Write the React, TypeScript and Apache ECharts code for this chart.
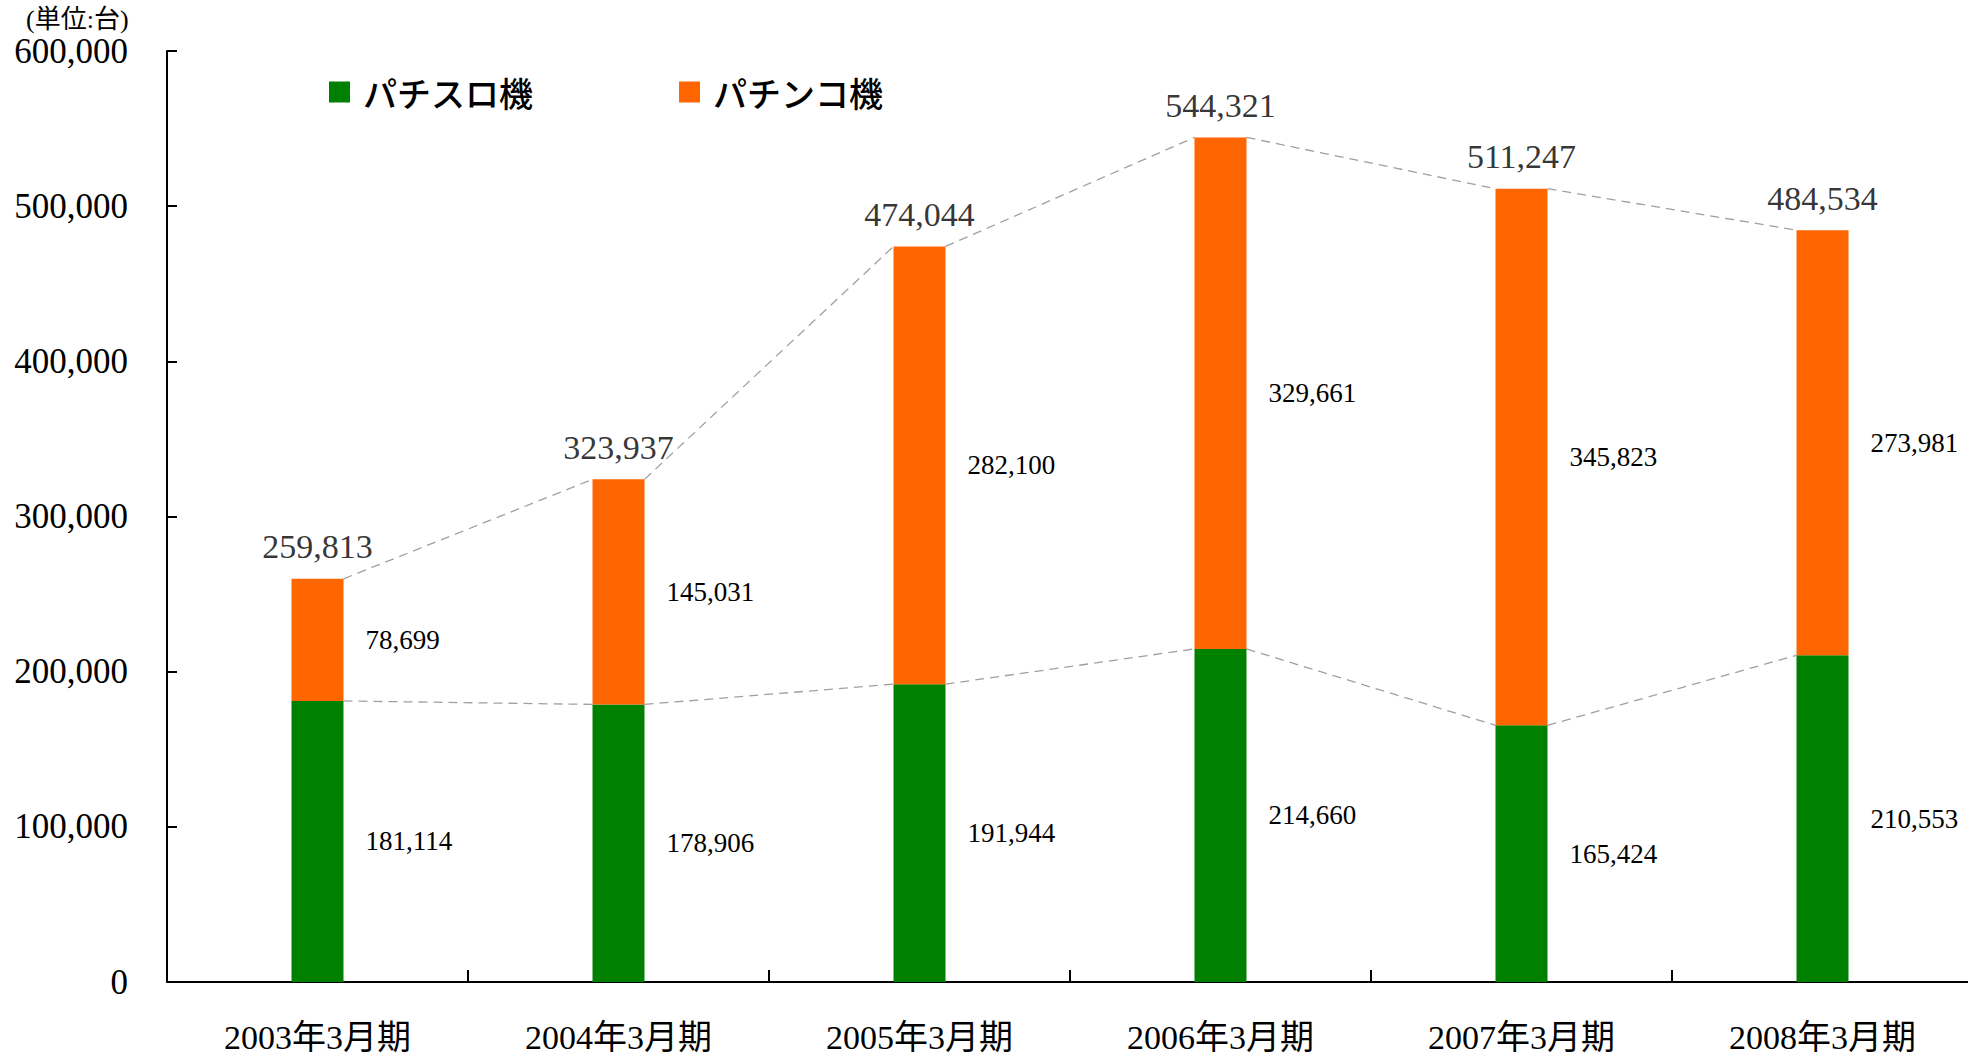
import React, { useEffect, useRef } from "react";
import * as echarts from "echarts";

const categories = ["2003年3月期", "2004年3月期", "2005年3月期", "2006年3月期", "2007年3月期", "2008年3月期"];
const pachislot = [181114, 178906, 191944, 214660, 165424, 210553];
const pachinko = [78699, 145031, 282100, 329661, 345823, 273981];
const totals = [259813, 323937, 474044, 544321, 511247, 484534];
const seriesNames = ["パチスロ機", "パチンコ機"];
const unitLabel = "(単位:台)";

const fmt = (v: number) => v.toLocaleString("en-US");
const SERIF = '"Liberation Serif", "Times New Roman", "Noto Sans CJK JP", serif';
const SANS = '"Noto Sans CJK JP", "Noto Sans", sans-serif';
const BAR_W = 52;

function connectorData(vals: number[]) {
  const out: number[][] = [];
  for (let i = 0; i < vals.length - 1; i++) out.push([i, vals[i], vals[i + 1]]);
  return out;
}

export default function App() {
  const ref = useRef<HTMLDivElement>(null);
  useEffect(() => {
    if (!ref.current) return;
    const chart = echarts.init(ref.current, null, { renderer: "svg" });
    const renderConnector = (params: any, api: any) => {
      const i = api.value(0);
      const p1 = api.coord([i, api.value(1)]);
      const p2 = api.coord([i + 1, api.value(2)]);
      return {
        type: "line",
        shape: { x1: p1[0] + BAR_W / 2, y1: p1[1], x2: p2[0] - BAR_W / 2, y2: p2[1] },
        style: { stroke: "#a0a0a0", lineWidth: 1.3, lineDash: [9, 6], fill: null },
      };
    };
    chart.setOption({
      animation: false,
      backgroundColor: "#fff",
      grid: { left: 167, top: 51, bottom: 72, width: 1806, outerBoundsMode: "none", containLabel: false },
      legend: {
        data: seriesNames,
        left: 324,
        top: 70,
        icon: "rect",
        itemWidth: 21,
        itemHeight: 21,
        itemGap: 146,
        textStyle: { fontFamily: SANS, fontSize: 34, fontWeight: 500, color: "#000", padding: [0, 0, 0, 8] },
      },
      graphic: [
        {
          type: "text",
          left: 26,
          top: 6,
          style: { text: unitLabel, font: `26px ${SERIF}`, fill: "#000" },
        },
      ],
      xAxis: {
        type: "category",
        data: categories,
        boundaryGap: true,
        axisLine: { show: true, lineStyle: { color: "#000", width: 2 } },
        axisTick: { show: true, interval: 0, alignWithLabel: false, inside: true, length: 12, lineStyle: { color: "#000", width: 2 } },
        axisLabel: { fontFamily: SERIF, fontSize: 34, color: "#000", margin: 38 },
      },
      yAxis: {
        type: "value",
        min: 0,
        max: 600000,
        interval: 100000,
        splitLine: { show: false },
        axisLine: { show: true, lineStyle: { color: "#000", width: 2 } },
        axisTick: { show: true, inside: true, length: 10, lineStyle: { color: "#000", width: 2 } },
        axisLabel: { fontFamily: SERIF, fontSize: 35, color: "#000", margin: 39, formatter: (v: number) => fmt(v) },
      },
      series: [
        {
          name: seriesNames[0],
          type: "bar",
          stack: "t",
          barWidth: BAR_W,
          itemStyle: { color: "#008000" },
          data: pachislot,
          label: { show: true, position: "right", distance: 22, fontFamily: SERIF, fontSize: 27, color: "#000", formatter: (p: any) => fmt(p.value) },
        },
        {
          name: seriesNames[1],
          type: "bar",
          stack: "t",
          barWidth: BAR_W,
          itemStyle: { color: "#FF6600" },
          data: pachinko,
          label: { show: true, position: "right", distance: 22, fontFamily: SERIF, fontSize: 27, color: "#000", formatter: (p: any) => fmt(p.value) },
        },
        {
          name: "total",
          type: "scatter",
          symbolSize: 0,
          data: totals,
          label: { show: true, position: "top", distance: 15, fontFamily: SERIF, fontSize: 34, color: "#000", formatter: (p: any) => fmt(p.value) },
          z: 5,
        },
        {
          name: "topLine",
          type: "custom",
          renderItem: renderConnector,
          encode: { x: 0, y: [1, 2] },
          data: connectorData(totals),
          z: 1,
        },
        {
          name: "midLine",
          type: "custom",
          renderItem: renderConnector,
          encode: { x: 0, y: [1, 2] },
          data: connectorData(pachislot),
          z: 1,
        },
      ],
    });
    return () => chart.dispose();
  }, []);
  return <div ref={ref} style={{ width: 1968, height: 1054, position: "absolute", left: 0, top: 0 }} />;
}
